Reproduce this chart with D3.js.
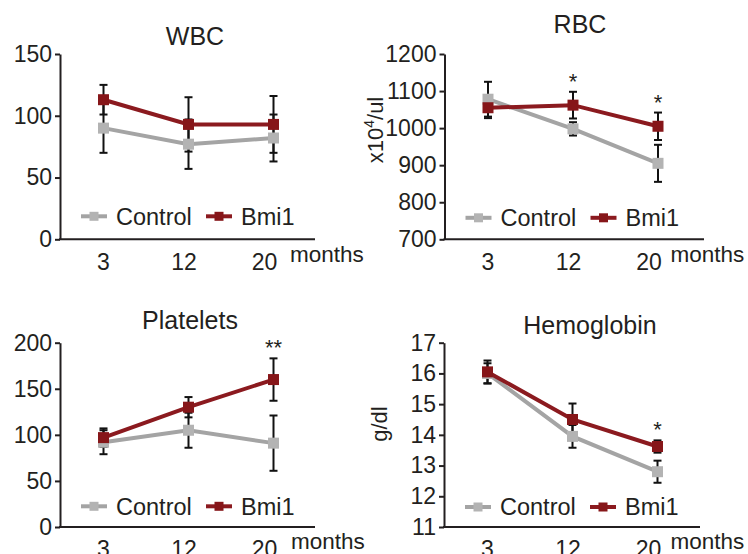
<!DOCTYPE html>
<html><head><meta charset="utf-8">
<script src="https://cdn.jsdelivr.net/npm/d3@7"></script>
<style>
body{margin:0;background:#fff}
svg{display:block}
text{font-family:"Liberation Sans",Arial,Helvetica,sans-serif;fill:#231f20}
</style>
</head><body>
<svg id="chart" width="748" height="554"></svg>
<script>
// ---- data ----
const months = ["3", "12", "20"];
const seriesNames = ["Control", "Bmi1"];

const wbcTicks = [0, 50, 100, 150];
const wbcControl = [90, 77, 82];
const wbcControlErr = [20, 20, 19];
const wbcBmi1 = [113, 93, 93];
const wbcBmi1Err = [12, 22, 23];
const wbcSig = ["", "", ""];

const rbcTicks = [700, 800, 900, 1000, 1100, 1200];
const rbcControl = [1078, 998, 905];
const rbcControlErr = [47, 18, 50];
const rbcBmi1 = [1055, 1062, 1005];
const rbcBmi1Err = [28, 36, 37];
const rbcSig = ["", "*", "*"];

const pltTicks = [0, 50, 100, 150, 200];
const pltControl = [92, 105, 91];
const pltControlErr = [13, 19, 30];
const pltBmi1 = [97, 130, 160];
const pltBmi1Err = [10, 11, 23];
const pltSig = ["", "", "**"];

const hbTicks = [11, 12, 13, 14, 15, 16, 17];
const hbControl = [16.0, 13.95, 12.8];
const hbControlErr = [0.33, 0.37, 0.36];
const hbBmi1 = [16.05, 14.5, 13.62];
const hbBmi1Err = [0.37, 0.52, 0.2];
const hbSig = ["", "", "*"];

// ---- layout (positions / styles) ----
const colors = {Control: {line: "#a4a4a4", mark: "#b3b3b3"}, Bmi1: {line: "#8b1a1f", mark: "#861619"}};
const ink = "#231f20";
const FONT = '"Liberation Sans",Arial,sans-serif';

const panels = [
  {title: "WBC", ticks: wbcTicks, data: [wbcControl, wbcBmi1], err: [wbcControlErr, wbcBmi1Err], sig: wbcSig,
   x0: 60, x1: 315, y0: 54, y1: 239.3, tx: 135, ty: -9, legY: -23, mx: 230, ylabel: null},
  {title: "RBC", ticks: rbcTicks, data: [rbcControl, rbcBmi1], err: [rbcControlErr, rbcBmi1Err], sig: rbcSig,
   x0: 444.5, x1: 704, y0: 54, y1: 239.3, tx: 135.5, ty: -21, legY: -21.5, mx: 226, ylabel: "rbc"},
  {title: "Platelets", ticks: pltTicks, data: [pltControl, pltBmi1], err: [pltControlErr, pltBmi1Err], sig: pltSig,
   x0: 60, x1: 315, y0: 342.7, y1: 527, tx: 130, ty: -14, legY: -20.7, mx: 231, ylabel: null},
  {title: "Hemoglobin", ticks: hbTicks, data: [hbControl, hbBmi1], err: [hbControlErr, hbBmi1Err], sig: hbSig,
   x0: 444, x1: 700, y0: 342.7, y1: 527, tx: 146, ty: -9, legY: -20, mx: 226.5, ylabel: "hb"}
];

const svg = d3.select("#chart");

panels.forEach(p => {
  const h = p.y1 - p.y0, w = p.x1 - p.x0;
  const g = svg.append("g").attr("transform", `translate(${p.x0},${p.y0})`);
  const x = d3.scalePoint().domain(months).range([43.5, 213.5]);
  const xl = d3.scalePoint().domain(months).range([43, 204]);
  const y = d3.scaleLinear().domain(d3.extent(p.ticks)).range([h, 0]);

  // title
  g.append("text").attr("x", p.tx).attr("y", p.ty).attr("text-anchor", "middle")
    .style("font-size", "25px").text(p.title);

  // y axis
  const ya = g.append("g").call(d3.axisLeft(y).tickValues(p.ticks).tickSize(5).tickSizeOuter(0).tickPadding(3)
      .tickFormat(d3.format("d")));
  ya.select(".domain").attr("stroke", ink).attr("stroke-width", 2);
  ya.selectAll(".tick line").attr("stroke", ink).attr("stroke-width", 2);
  ya.selectAll(".tick text").style("font-size", "23px").style("font-family", FONT).attr("fill", ink);

  // x axis line
  g.append("line").attr("x1", -1).attr("x2", w).attr("y1", h).attr("y2", h)
    .attr("stroke", ink).attr("stroke-width", 2);
  const xa = g.append("g").attr("transform", `translate(0,${h})`)
    .call(d3.axisBottom(xl).tickSize(0).tickPadding(14));
  xa.select(".domain").remove();
  xa.selectAll(".tick text").style("font-size", "23px").style("font-family", FONT).attr("fill", ink);
  g.append("text").attr("x", p.mx).attr("y", h + 22.5).style("font-size", "22.5px").text("months");

  // error bars
  seriesNames.forEach((s, si) => {
    const vals = p.data[si], errs = p.err[si];
    const eg = g.append("g").attr("stroke", "#111").attr("stroke-width", 2);
    months.forEach((m, i) => {
      const cx = x(m), top = y(vals[i] + errs[i]), bot = y(vals[i] - errs[i]);
      eg.append("line").attr("x1", cx).attr("x2", cx).attr("y1", top).attr("y2", bot);
      eg.append("line").attr("x1", cx - 4).attr("x2", cx + 4).attr("y1", top).attr("y2", top);
      eg.append("line").attr("x1", cx - 4).attr("x2", cx + 4).attr("y1", bot).attr("y2", bot);
    });
  });

  // lines and markers
  const line = d3.line().x((d, i) => x(months[i])).y(d => y(d));
  seriesNames.forEach((s, si) => {
    const vals = p.data[si];
    g.append("path").datum(vals).attr("d", line).attr("fill", "none")
      .attr("stroke", colors[s].line).attr("stroke-width", 4);
  });
  seriesNames.forEach((s, si) => {
    const vals = p.data[si];
    g.selectAll(null).data(vals).enter().append("rect")
      .attr("x", (d, i) => x(months[i]) - 5.5).attr("y", d => y(d) - 5.5)
      .attr("width", 11).attr("height", 11).attr("fill", colors[s].mark);
  });

  // significance stars
  months.forEach((m, i) => {
    if (!p.sig[i]) return;
    const top = Math.min(...seriesNames.map((s, si) => y(p.data[si][i] + p.err[si][i])));
    g.append("text").attr("x", x(m)).attr("y", top - 3).attr("text-anchor", "middle")
      .style("font-size", "22px").text(p.sig[i]);
  });

  // legend
  const ly = h + p.legY;
  const legPos = [{l1: 21, l2: 47, t: 56}, {l1: 146, l2: 172, t: 181}];
  seriesNames.forEach((s, si) => {
    const lp = legPos[si];
    g.append("line").attr("x1", lp.l1).attr("x2", lp.l2).attr("y1", ly).attr("y2", ly)
      .attr("stroke", colors[s].line).attr("stroke-width", 4);
    g.append("rect").attr("x", (lp.l1 + lp.l2) / 2 - 4.5).attr("y", ly - 4.5)
      .attr("width", 9).attr("height", 9).attr("fill", colors[s].mark);
    g.append("text").attr("x", lp.t).attr("y", ly + 8.4).style("font-size", "23.5px").text(s);
  });

  // y labels
  if (p.ylabel === "rbc") {
    const t = g.append("text").attr("transform", `translate(-61.5,76) rotate(-90)`)
      .attr("text-anchor", "middle").style("font-size", "22px");
    t.append("tspan").text("x10");
    t.append("tspan").attr("dy", -9).style("font-size", "14px").text("4");
    t.append("tspan").attr("dy", 9).text("/ul");
  } else if (p.ylabel === "hb") {
    g.append("text").attr("transform", `translate(-57,81.3) rotate(-90)`)
      .attr("text-anchor", "middle").style("font-size", "22px").text("g/dl");
  }
});
</script>
</body></html>
